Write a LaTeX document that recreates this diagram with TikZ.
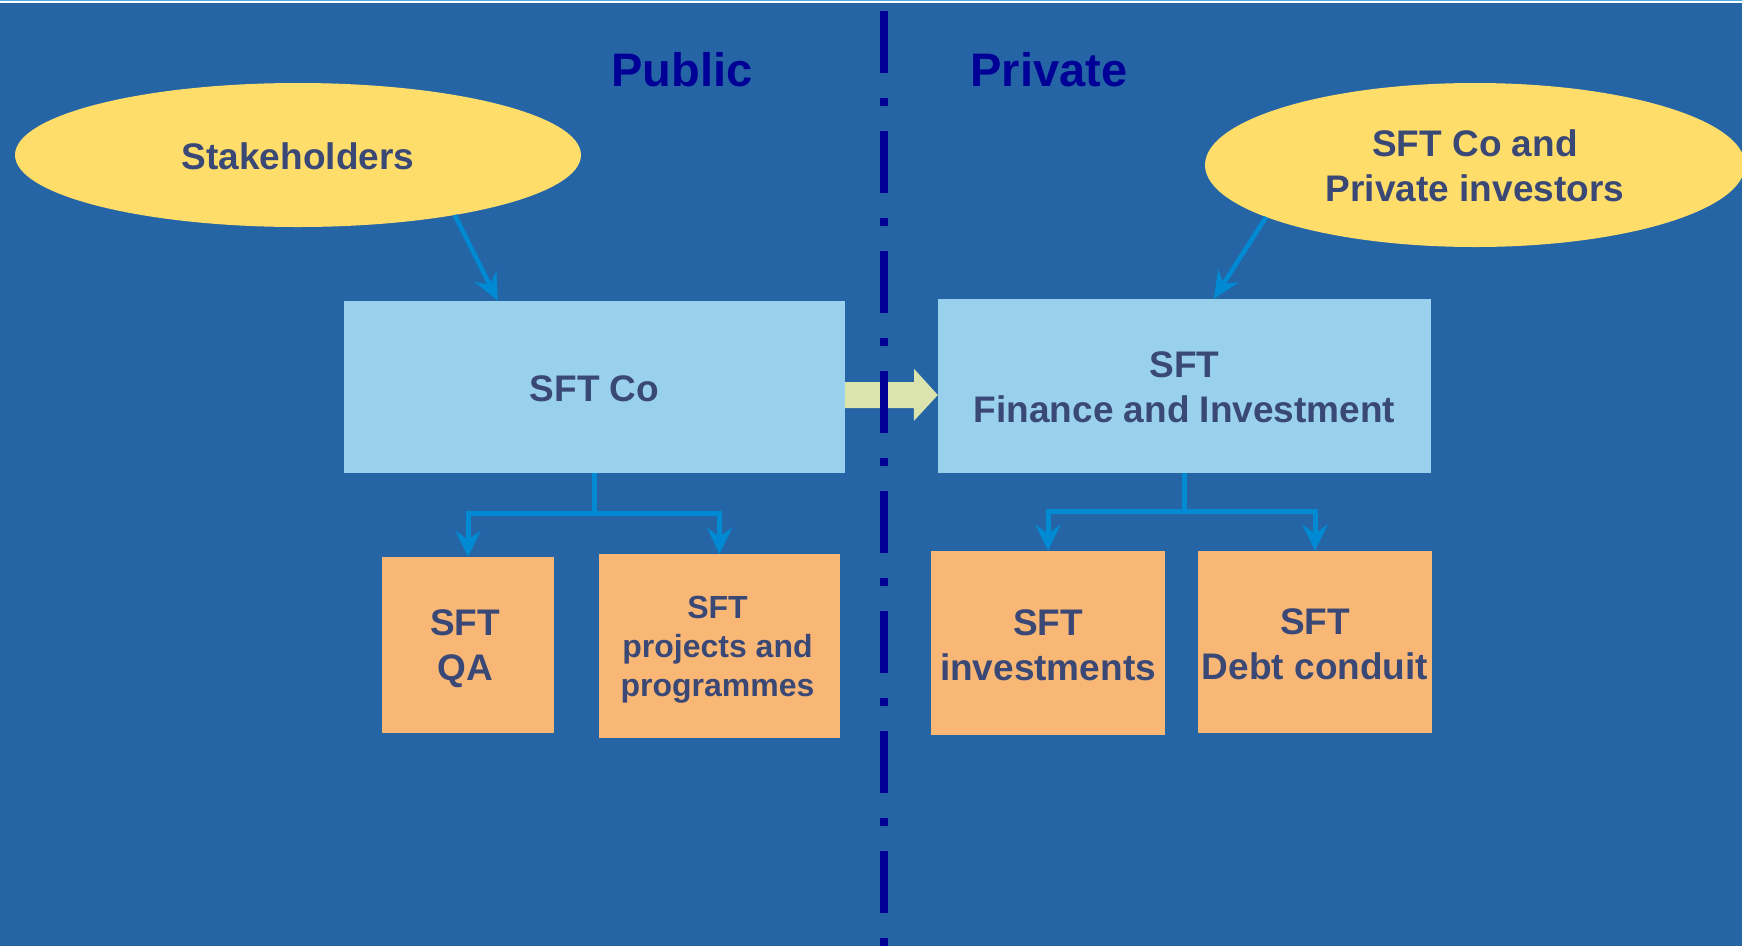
\documentclass[tikz,border=0pt]{standalone}
\usepackage{fontspec}
\setmainfont{Liberation Sans}
\usetikzlibrary{arrows.meta,shapes.geometric,calc}

\definecolor{bgblue}{RGB}{38,101,165}
\definecolor{topcyan}{RGB}{80,170,225}
\definecolor{ellyellow}{RGB}{255,221,107}
\definecolor{boxblue}{RGB}{153,208,235}
\definecolor{boxorange}{RGB}{249,183,118}
\definecolor{txtslate}{RGB}{58,72,118}
\definecolor{connblue}{RGB}{0,138,212}
\definecolor{fatgreen}{RGB}{218,228,172}
\definecolor{navy}{RGB}{0,0,150}

\tikzset{
  bigtext/.style={font=\bfseries\fontsize{37}{45}\selectfont, text=txtslate, align=center, inner sep=0pt},
  smalltext/.style={font=\bfseries\fontsize{32}{39}\selectfont, text=txtslate, align=center, inner sep=0pt},
  ell/.style={ellipse, fill=ellyellow, inner sep=0pt},
  bluebox/.style={rectangle, fill=boxblue, inner sep=0pt},
  orangebox/.style={rectangle, fill=boxorange, inner sep=0pt},
  feed/.style={draw=connblue, line width=4.5pt, -{Stealth[length=27pt,width=24pt,inset=9pt]}},
  branch/.style={draw=connblue, line width=5pt, -{Stealth[length=26pt,width=25pt,inset=9pt]}},
  divider/.style={draw=navy, line width=7.5pt, dash pattern=on 62pt off 25pt on 8pt off 25pt},
  sidetitle/.style={font=\bfseries\fontsize{47}{56}\selectfont, text=navy},
  fatarrow/.style={fill=fatgreen}
}

\begin{document}
\begin{tikzpicture}[x=1pt,y=-1pt]
  % canvas
  \useasboundingbox (0,0) rectangle (1742,946);
  \clip (0,0) rectangle (1742,946);
  \fill[bgblue] (0,0) rectangle (1742,946);
  \fill[white] (0,0) rectangle (1742,3.4);
  \fill[topcyan] (0,0) rectangle (1742,1.4);

  % ellipses
  \node[ell, minimum width=566pt, minimum height=144pt] (stk) at (298,155) {};
  \node[ell, minimum width=540pt, minimum height=164pt] (inv) at (1475,165) {};

  % main boxes
  \node[bluebox, minimum width=501pt, minimum height=172pt] (sftco) at (594.5,387) {};
  \node[bluebox, minimum width=493pt, minimum height=174pt] (fin) at (1184.5,386) {};

  % sub boxes
  \node[orangebox, minimum width=172pt, minimum height=176pt] (qa) at (468,645) {};
  \node[orangebox, minimum width=241pt, minimum height=184pt] (proj) at (719.5,646) {};
  \node[orangebox, minimum width=234pt, minimum height=184pt] (invest) at (1048,643) {};
  \node[orangebox, minimum width=234pt, minimum height=182pt] (debt) at (1315,642) {};

  % labels
  \node[bigtext] (stkT) at ([yshift=-1pt]stk.center) {Stakeholders};
  \node[bigtext] (invT) at ([yshift=-1pt]inv.center) {SFT Co and\\Private investors};
  \node[bigtext] (sftcoT) at ([yshift=-2pt]sftco.center) {SFT Co};
  \node[bigtext] (finT) at ([yshift=-1pt]fin.center) {SFT\\Finance and Investment};
  \node[bigtext] (qaT) at ([xshift=-3pt,yshift=-4pt]qa.center) {SFT\\QA};
  \node[smalltext] (projT) at ([xshift=-2pt,yshift=-4pt]proj.center) {SFT\\projects and\\programmes};
  \node[bigtext] (investT) at ([yshift=-2pt]invest.center) {SFT\\investments};
  \node[bigtext] (debtT) at ([yshift=-2pt]debt.center) {SFT\\Debt conduit};

  % feeds from the ellipses
  \draw[feed] (stk.-21) -- ([xshift=154pt]sftco.north west);
  \draw[feed] (inv.-166) -- ([xshift=276pt]fin.north west);

  % branches to the sub boxes
  \draw[branch] (sftco.south) -- ++(0,40) -| (qa.north);
  \draw[branch] (sftco.south) -- ++(0,40) -| (proj.north);
  \draw[branch] (fin.south) -- ++(0,38) -| (invest.north);
  \draw[branch] (fin.south) -- ++(0,38) -| (debt.north);

  % block arrow between the two main boxes
  \path ([yshift=-8pt]sftco.east) coordinate (fa0);
  \fill[fatarrow] (fa0) -- ++(0,-13) -- ++(69,0) -- ++(0,-13) -- (fin.west |- fa0)
    -- ++(-24,26) -- ++(0,-13) -- ++(-69,0) -- cycle;

  % public / private divider
  \coordinate (divtop) at (884,11);
  \coordinate (divbot) at (884,950);
  \draw[divider] (divtop) -- (divbot);

  % side titles
  \node[sidetitle] (pub) at (682,70) {Public};
  \node[sidetitle] (priv) at (1049,70) {Private};
\end{tikzpicture}
\end{document}
